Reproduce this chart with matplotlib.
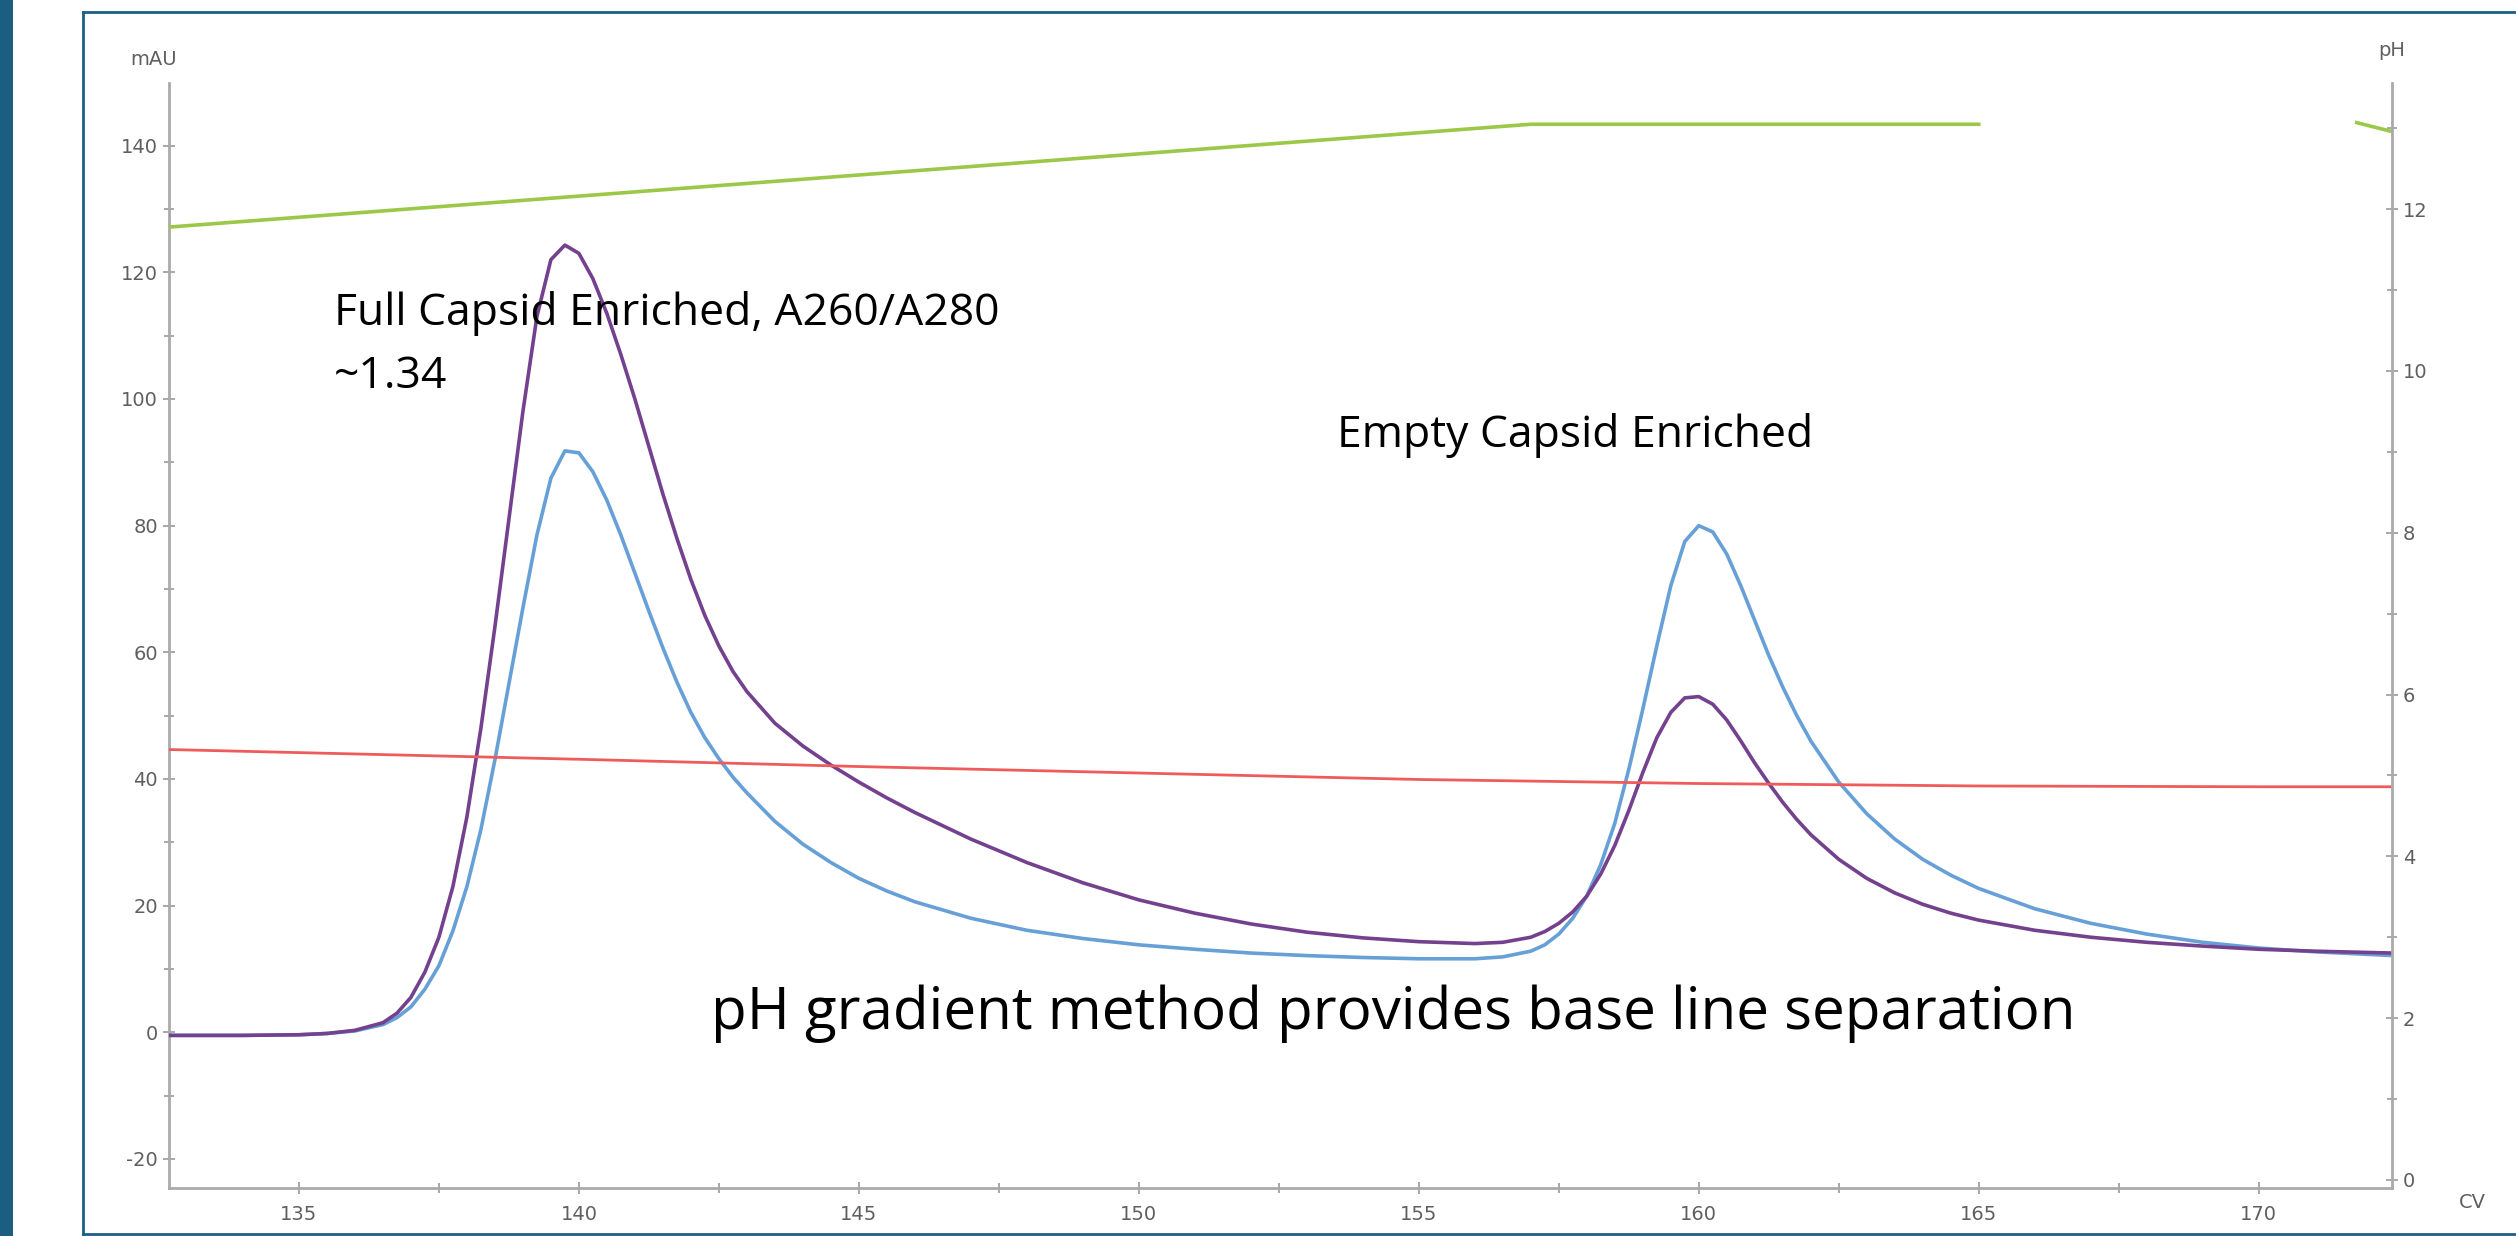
import numpy as np
import matplotlib.pyplot as plt
from matplotlib.lines import Line2D
from matplotlib.patches import Rectangle
from matplotlib.ticker import MultipleLocator

plt.rcParams['axes.unicode_minus'] = False

# column volume positions (CV)
cv = [132.7, 134, 135, 135.5, 136,
      136.5, 136.75, 137, 137.25, 137.5, 137.75, 138, 138.25, 138.5, 138.75,
      139, 139.25, 139.5, 139.75, 140, 140.25, 140.5, 140.75, 141, 141.25,
      141.5, 141.75, 142, 142.25, 142.5, 142.75,
      143, 143.5, 144, 144.5, 145, 145.5, 146,
      147, 148, 149, 150, 151, 152, 153, 154, 155, 156, 156.5,
      157, 157.25, 157.5, 157.75, 158, 158.25, 158.5, 158.75, 159, 159.25,
      159.5, 159.75, 160, 160.25, 160.5, 160.75, 161, 161.25, 161.5, 161.75, 162,
      162.5, 163, 163.5, 164, 164.5, 165,
      166, 167, 168, 169, 170, 171, 172.4]

# A260 (purple), mAU
a260 = [-0.5, -0.5, -0.4, -0.2, 0.3,
        1.5, 3, 5.5, 9.5, 15, 23, 34, 48, 64, 81,
        98, 113, 122, 124.3, 123, 119, 113.5, 107, 100, 92.5,
        85, 78, 71.5, 65.8, 61, 57,
        53.8, 48.8, 45.2, 42.2, 39.5, 37, 34.7,
        30.5, 26.8, 23.6, 20.9, 18.8, 17.1, 15.8, 14.9, 14.3, 14.0, 14.2,
        15, 15.9, 17.2, 19, 21.5, 25, 29.5, 35, 41, 46.5,
        50.5, 52.8, 53, 51.8, 49.3, 46, 42.5, 39.3, 36.3, 33.6, 31.2,
        27.3, 24.3, 22, 20.2, 18.8, 17.7,
        16.1, 15, 14.2, 13.6, 13.1, 12.8, 12.5]

# A280 (blue), mAU
a280 = [-0.5, -0.5, -0.4, -0.2, 0.2,
        1.2, 2.3, 4, 6.8, 10.5, 16, 23, 32, 43, 55,
        67, 78.5, 87.5, 91.8, 91.5, 88.5, 84, 78.5, 72.5, 66.5,
        60.7, 55.3, 50.5, 46.5, 43.2, 40.3,
        37.8, 33.3, 29.7, 26.8, 24.3, 22.3, 20.6,
        18, 16.1, 14.8, 13.8, 13.1, 12.5, 12.1, 11.8, 11.6, 11.6, 11.9,
        12.8, 13.8, 15.5, 18, 21.5, 26.5, 33, 41.5, 51, 61,
        70.5, 77.5, 80, 79, 75.5, 70.5, 65, 59.5, 54.5, 50, 46,
        39.5, 34.5, 30.5, 27.3, 24.8, 22.7,
        19.5, 17.2, 15.5, 14.2, 13.3, 12.7, 12.1]

# pH trace (red)
ph_cv = [132.7, 140, 145, 150, 155, 160, 165, 170, 172.4]
ph = [5.32, 5.2, 5.11, 5.03, 4.95, 4.9, 4.87, 4.86, 4.86]

# gradient trace (green), on pH scale
grad_cv = [132.7, 157, 165]
grad = [11.78, 13.05, 13.05]
grad2_cv = [171.75, 172.38]
grad2 = [13.07, 12.96]

fig = plt.figure(figsize=(25.16, 12.36), dpi=100)
ax = fig.add_axes([169/2516, 1 - 1188/1236, (2392 - 169)/2516, (1188 - 83)/1236])
ax2 = ax.twinx()

ax.plot(cv, a280, color='#66a0d6', lw=2.6, zorder=3)
ax.plot(cv, a260, color='#74418f', lw=2.6, zorder=4)
ax2.plot(ph_cv, ph, color='#ef5b5b', lw=2.0)
ax2.plot(grad_cv, grad, color='#9cc84a', lw=2.6)
ax2.plot(grad2_cv, grad2, color='#9cc84a', lw=2.6)

ax.set_xlim(132.68, 172.38)
ax.set_ylim(-24.6, 149.9)
ax2.set_ylim(-0.1, 13.56)

grey = '#5f5f5f'
for a in (ax, ax2):
    a.spines['top'].set_visible(False)
    for s in a.spines.values():
        s.set_color('#aaaaaa')
        s.set_linewidth(2)
    a.tick_params(which='both', direction='inout', color='#999999', labelcolor=grey,
                  labelsize=14, width=1.2)
    a.tick_params(which='major', length=9)
    a.tick_params(which='minor', length=7)
    a.patch.set_visible(False)

ax.spines['right'].set_visible(False)
ax2.spines['left'].set_visible(False)
ax2.spines['bottom'].set_visible(False)

ax.xaxis.set_major_locator(MultipleLocator(5))
ax.xaxis.set_minor_locator(MultipleLocator(2.5))
ax.yaxis.set_major_locator(MultipleLocator(20))
ax.yaxis.set_minor_locator(MultipleLocator(10))
ax2.yaxis.set_major_locator(MultipleLocator(2))
ax2.yaxis.set_minor_locator(MultipleLocator(1))
ax.tick_params(axis='x', pad=8)

ax.text(-0.007, 1.021, 'mAU', transform=ax.transAxes, ha='center', va='center',
        fontsize=14, color=grey)
ax2.text(1.0, 1.029, 'pH', transform=ax2.transAxes, ha='center', va='center',
         fontsize=14, color=grey)
ax.text(1.036, -0.013, 'CV', transform=ax.transAxes, ha='center', va='center',
        fontsize=14, color=grey)

txt = dict(family='Open Sans', color='black')
fig.text(334/2516, 1 - 314/1236, 'Full Capsid Enriched, A260/A280', fontsize=32,
         va='center', ha='left', **txt)
fig.text(334/2516, 1 - 377/1236, '~1.34', fontsize=32, va='center', ha='left', **txt)
fig.text(1337/2516, 1 - 435/1236, 'Empty Capsid Enriched', fontsize=32,
         va='center', ha='left', **txt)
fig.text(711/2516, 1 - 1014/1236, 'pH gradient method provides base line separation',
         fontsize=42, va='center', ha='left', **txt)

# slide frame
frame = '#1d5f86'
fig.add_artist(Rectangle((0, 0), 13/2516, 1, transform=fig.transFigure,
                         color='#1b5e82', lw=0))
fig.add_artist(Line2D([83/2516, 83/2516], [0.0015, 1 - 12/1236], color=frame, lw=2,
                      transform=fig.transFigure))
fig.add_artist(Line2D([83/2516, 1], [1 - 12/1236, 1 - 12/1236], color=frame, lw=2,
                      transform=fig.transFigure))
fig.add_artist(Line2D([83/2516, 1], [0.0015, 0.0015], color=frame, lw=2,
                      transform=fig.transFigure))

fig.savefig('out.png', dpi=100)
